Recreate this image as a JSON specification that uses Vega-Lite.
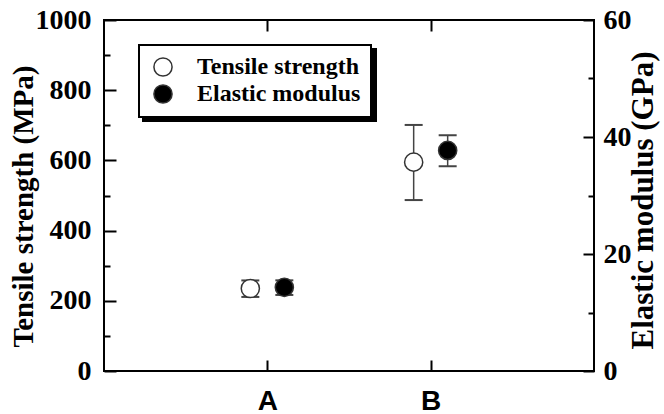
{
  "$schema": "https://vega.github.io/schema/vega-lite/v6.json",
  "width": 490,
  "height": 351,
  "autosize": {"type": "none"},
  "padding": {"left": 104, "top": 20, "right": 70, "bottom": 43},
  "background": "white",
  "config": {
    "font": "Liberation Serif",
    "view": {"stroke": "black", "strokeWidth": 2},
    "axis": {"domain": false, "grid": false, "ticks": true, "tickColor": "black", "tickWidth": 2, "labelColor": "black", "titleColor": "black", "labelOverlap": false,
      "labelFont": "Liberation Serif", "titleFont": "Liberation Serif", "labelFontWeight": "bold", "titleFontWeight": "bold"},
    "axisY": {"labelFont": "Liberation Serif", "titleFont": "Liberation Serif", "labelFontSize": 28, "titleFontSize": 29},
    "axisX": {"labelFont": "Liberation Sans", "labelFontSize": 28},
    "legend": {"strokeWidth": 2}
  },
  "data": {"values": [
    {"sample": "A", "ts": 235, "ts_lo": 211, "ts_hi": 258, "em": 14.3, "em_lo": 13.0, "em_hi": 15.5},
    {"sample": "B", "ts": 595, "ts_lo": 487, "ts_hi": 701, "em": 37.7, "em_lo": 35.0, "em_hi": 40.3}
  ]},
  "layer": [
    {
      "mark": {"type": "rule", "xOffset": -17, "color": "#444", "strokeWidth": 1.5},
      "encoding": {
        "x": {"field": "sample", "type": "nominal", "scale": {"type": "point", "padding": 1},
          "axis": {"orient": "bottom", "offset": -11, "tickSize": 11, "ticks": true, "labelPadding": 16, "labelFont": "Liberation Sans", "labelFontSize": 28, "labelFontWeight": "bold", "labelAngle": 0, "title": null}},
        "y": {"field": "ts_lo", "type": "quantitative", "scale": {"domain": [0, 1000], "nice": false},
          "axis": {"orient": "left", "offset": -12, "tickSize": 12, "values": [0, 200, 400, 600, 800, 1000], "format": "d", "labelPadding": 13,
            "title": "Tensile strength (MPa)", "titleFont": "Liberation Serif", "titleFontSize": 29, "titleAngle": -90, "titleBaseline": "alphabetic", "titleAlign": "center", "titleX": -84, "titleY": 186}},
        "y2": {"field": "ts_hi"}
      }
    },
    {
      "mark": {"type": "tick", "orient": "horizontal", "size": 18, "thickness": 2, "color": "#444", "opacity": 1, "xOffset": -17},
      "encoding": {
        "x": {"field": "sample", "type": "nominal", "scale": {"type": "point", "padding": 1}, "axis": null},
        "y": {"field": "ts_lo", "type": "quantitative", "scale": {"domain": [0, 1000], "nice": false},
          "axis": {"orient": "left", "offset": -6, "tickSize": 6, "values": [100, 300, 500, 700, 900], "labels": false, "title": null}}
      }
    },
    {
      "mark": {"type": "tick", "orient": "horizontal", "size": 18, "thickness": 2, "color": "#444", "opacity": 1, "xOffset": -17},
      "encoding": {
        "x": {"field": "sample", "type": "nominal", "scale": {"type": "point", "padding": 1},
          "axis": {"orient": "top", "offset": -11, "tickSize": 11, "ticks": true, "labels": false, "title": null}},
        "y": {"field": "ts_hi", "type": "quantitative", "scale": {"domain": [0, 1000], "nice": false}, "axis": null}
      }
    },
    {
      "mark": {"type": "point", "shape": "circle", "filled": true, "size": 330, "strokeWidth": 1.5, "opacity": 1, "xOffset": -17},
      "encoding": {
        "x": {"field": "sample", "type": "nominal", "scale": {"type": "point", "padding": 1}, "axis": null},
        "y": {"field": "ts", "type": "quantitative", "scale": {"domain": [0, 1000], "nice": false}, "axis": null},
        "fill": {"datum": "Tensile strength", "type": "nominal",
          "scale": {"domain": ["Tensile strength", "Elastic modulus"], "range": ["white", "black"]},
          "legend": {"orient": "none", "legendX": 35, "legendY": 25, "zindex": 2, "title": null, "padding": 10, "strokeColor": "black", "fillColor": "white",
            "symbolType": "circle", "symbolSize": 330, "symbolStrokeColor": "#333", "symbolStrokeWidth": 1.5, "symbolOpacity": 1, "symbolOffset": 2,
            "labelFont": "Liberation Serif", "labelFontSize": 24, "labelFontWeight": "bold", "labelColor": "black", "labelOffset": 22, "rowPadding": 1, "labelLimit": 400}},
        "stroke": {"datum": "Tensile strength ", "type": "nominal",
          "scale": {"domain": ["Tensile strength ", "Elastic modulus "], "range": ["#333", "#333"]},
          "legend": {"orient": "none", "legendX": 39, "legendY": 29, "zindex": 1, "title": null, "padding": 10, "strokeColor": "black", "fillColor": "black",
            "symbolType": "circle", "symbolSize": 330, "symbolFillColor": "black", "symbolStrokeColor": "black", "symbolStrokeWidth": 1.5, "symbolOpacity": 1, "symbolOffset": 2,
            "labelFont": "Liberation Serif", "labelFontSize": 24, "labelFontWeight": "bold", "labelColor": "black", "labelOffset": 187, "rowPadding": 1, "labelLimit": 400,
            "labelExpr": "''"}}
      }
    },
    {
      "mark": {"type": "rule", "xOffset": 17, "color": "#444", "strokeWidth": 1.5},
      "encoding": {
        "x": {"field": "sample", "type": "nominal", "scale": {"type": "point", "padding": 1}, "axis": null},
        "y": {"field": "em_lo", "type": "quantitative", "scale": {"domain": [0, 60], "nice": false},
          "axis": {"orient": "right", "offset": -11, "tickSize": 11, "values": [0, 20, 40, 60], "format": "d", "labelPadding": 9,
            "title": "Elastic modulus (GPa)", "titleFont": "Liberation Serif", "titleFontSize": 31, "titleAngle": -90, "titleBaseline": "alphabetic", "titleAlign": "center", "titleX": 69, "titleY": 180}},
        "y2": {"field": "em_hi"}
      }
    },
    {
      "mark": {"type": "tick", "orient": "horizontal", "size": 18, "thickness": 2, "color": "#444", "opacity": 1, "xOffset": 17},
      "encoding": {
        "x": {"field": "sample", "type": "nominal", "scale": {"type": "point", "padding": 1}, "axis": null},
        "y": {"field": "em_lo", "type": "quantitative", "scale": {"domain": [0, 60], "nice": false},
          "axis": {"orient": "right", "offset": -6, "tickSize": 6, "values": [10, 30, 50], "labels": false, "title": null}}
      }
    },
    {
      "mark": {"type": "tick", "orient": "horizontal", "size": 18, "thickness": 2, "color": "#444", "opacity": 1, "xOffset": 17},
      "encoding": {
        "x": {"field": "sample", "type": "nominal", "scale": {"type": "point", "padding": 1}, "axis": null},
        "y": {"field": "em_hi", "type": "quantitative", "scale": {"domain": [0, 60], "nice": false}, "axis": null}
      }
    },
    {
      "mark": {"type": "point", "shape": "circle", "filled": true, "size": 330, "strokeWidth": 1.5, "opacity": 1, "xOffset": 17},
      "encoding": {
        "x": {"field": "sample", "type": "nominal", "scale": {"type": "point", "padding": 1}, "axis": null},
        "y": {"field": "em", "type": "quantitative", "scale": {"domain": [0, 60], "nice": false}, "axis": null},
        "fill": {"datum": "Elastic modulus", "type": "nominal"},
        "stroke": {"datum": "Elastic modulus ", "type": "nominal"}
      }
    }
  ],
  "resolve": {"scale": {"y": "independent"}, "axis": {"x": "independent", "y": "independent"}}
}
